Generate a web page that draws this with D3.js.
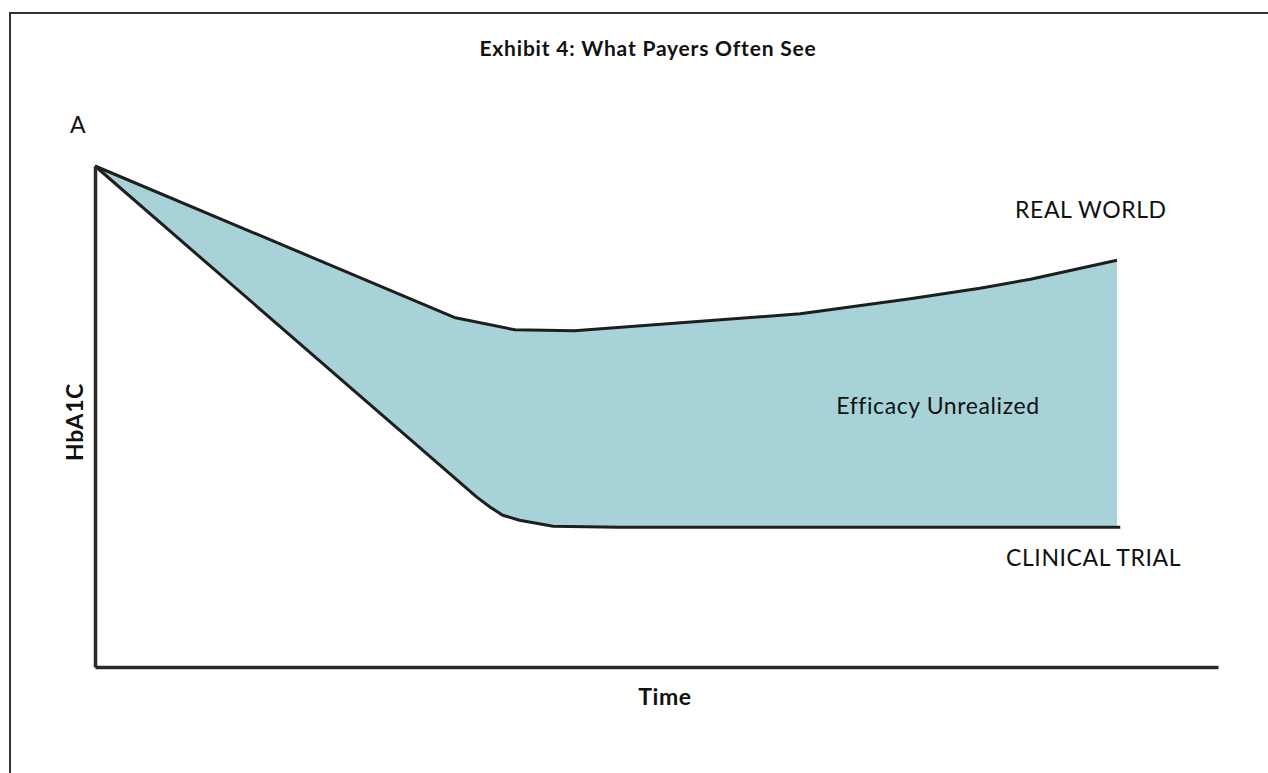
<!DOCTYPE html>
<html>
<head>
<meta charset="utf-8">
<script src="https://cdn.jsdelivr.net/npm/d3@7"></script>
<style>
  html, body { margin: 0; padding: 0; background: #fff; }
  svg { display: block; font-family: Lato, "Open Sans", sans-serif; }
</style>
</head>
<body>
<svg id="chart" width="1268" height="773"></svg>
<script>
// Time axis positions (relative units) and HbA1C levels for each curve
const realWorldTime  = [0, 32.1, 37.4, 42.7, 62.8, 72.6, 78.8, 83.3, 91.0];
const realWorldHbA1C = [100, 69.7, 67.3, 67.1, 70.5, 73.5, 75.6, 77.4, 81.2];

const trialTime  = [0, 34.0, 35.2, 36.3, 37.8, 40.8, 46.7, 91.3];
const trialHbA1C = [100, 33.9, 31.9, 30.3, 29.3, 28.1, 27.9, 27.9];

const title = "Exhibit 4: What Payers Often See";
const yAxisLabel = "HbA1C";
const xAxisLabel = "Time";
const seriesLabels = ["REAL WORLD", "CLINICAL TRIAL"];
const gapLabel = "Efficacy Unrealized";
const panelLabel = "A";

const svg = d3.select("#chart");
const W = 1268, H = 773;
const plot = { left: 95, right: 1218, top: 166, bottom: 667 };

const x = d3.scaleLinear().domain([0, 100]).range([plot.left, plot.right]);
const y = d3.scaleLinear().domain([0, 100]).range([plot.bottom, plot.top]);

const realWorld = realWorldTime.map((t, i) => ({ t, v: realWorldHbA1C[i] }));
const trial = trialTime.map((t, i) => ({ t, v: trialHbA1C[i] }));

// Frame (top and left edges)
svg.append("path")
  .attr("d", `M10,${H + 5} L10,13 L${W + 5},13`)
  .attr("fill", "none")
  .attr("stroke", "#333")
  .attr("stroke-width", 2);

// Title
svg.append("text")
  .attr("x", 648).attr("y", 56)
  .attr("text-anchor", "middle")
  .attr("font-size", 21).attr("font-weight", 700)
  .attr("letter-spacing", 0.8)
  .attr("fill", "#111")
  .text(title);

// Shaded gap between the two curves
const curve = d3.curveLinear;
const clip = svg.append("defs").append("clipPath").attr("id", "above-trial");
clip.append("path")
  .attr("d", d3.area().curve(curve)
    .x(d => x(d.t)).y0(y(100) - 10).y1(d => y(d.v))(trial));

svg.append("path")
  .attr("clip-path", "url(#above-trial)")
  .attr("d", d3.area().curve(curve)
    .x(d => x(d.t)).y0(y(0)).y1(d => y(d.v))(realWorld))
  .attr("fill", "#a7d3d8");

// Curves
const line = d3.line().curve(curve).x(d => x(d.t)).y(d => y(d.v));
[realWorld, trial].forEach(data => {
  svg.append("path")
    .attr("d", line(data))
    .attr("fill", "none")
    .attr("stroke", "#1e1e1e")
    .attr("stroke-width", 3)
    .attr("stroke-linejoin", "round")
    .attr("stroke-linecap", "butt");
});

// Axes (bare lines, no ticks)
const yAxis = d3.axisLeft(y).tickValues([]).tickSizeOuter(0);
const xAxis = d3.axisBottom(x).tickValues([]).tickSizeOuter(0);
svg.append("g").attr("transform", `translate(${plot.left},0)`).call(yAxis)
  .select(".domain").attr("stroke", "#2a2a2a").attr("stroke-width", 3.5);
svg.append("g").attr("transform", `translate(0,${plot.bottom})`).call(xAxis)
  .select(".domain").attr("stroke", "#2a2a2a").attr("stroke-width", 3.5);

// Axis labels
svg.append("text")
  .attr("transform", `translate(83,${422}) rotate(-90)`)
  .attr("text-anchor", "middle")
  .attr("font-size", 23).attr("font-weight", 700)
  .attr("letter-spacing", 0.6)
  .attr("fill", "#111")
  .text(yAxisLabel);

svg.append("text")
  .attr("x", 665).attr("y", 705)
  .attr("text-anchor", "middle")
  .attr("font-size", 23).attr("font-weight", 700)
  .attr("letter-spacing", 0.6)
  .attr("fill", "#111")
  .text(xAxisLabel);

svg.append("text")
  .attr("x", 70).attr("y", 133)
  .attr("font-size", 23)
  .attr("fill", "#111")
  .text(panelLabel);

// Series and gap annotations
svg.append("text")
  .attr("x", 1015).attr("y", 218)
  .attr("font-size", 23).attr("letter-spacing", 0.6).attr("fill", "#111")
  .text(seriesLabels[0]);

svg.append("text")
  .attr("x", 1006).attr("y", 566)
  .attr("font-size", 23).attr("letter-spacing", 0.6).attr("fill", "#111")
  .text(seriesLabels[1]);

svg.append("text")
  .attr("x", 938).attr("y", 414)
  .attr("text-anchor", "middle")
  .attr("font-size", 23).attr("letter-spacing", 0.6).attr("fill", "#111")
  .text(gapLabel);
</script>
</body>
</html>
